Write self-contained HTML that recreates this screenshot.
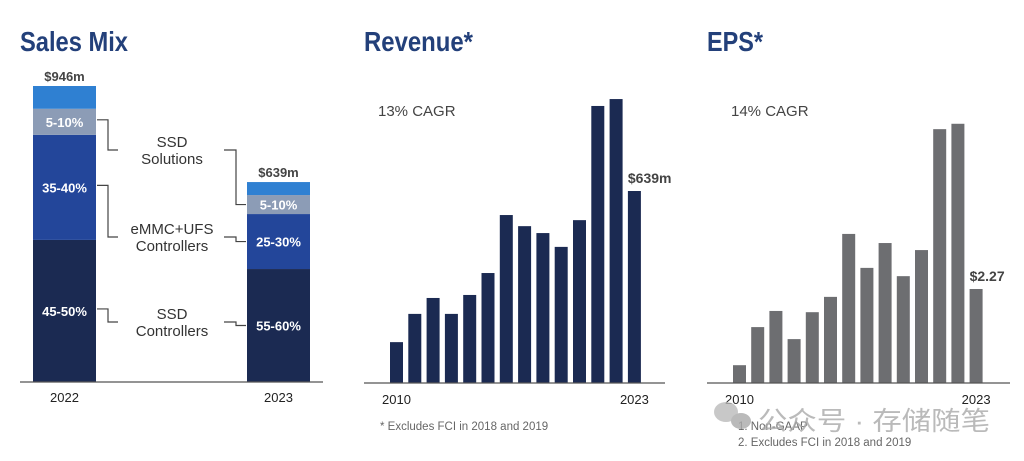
<!DOCTYPE html>
<html><head><meta charset="utf-8">
<style>
html,body{margin:0;padding:0;background:#fff;}
body{width:1024px;height:461px;overflow:hidden;position:relative;font-family:"Liberation Sans",sans-serif;}
svg{position:absolute;left:0;top:0;}
</style></head>
<body>
<svg id="chart" width="1024" height="461" viewBox="0 0 1024 461">
  <text x="20" y="51" textLength="108" lengthAdjust="spacingAndGlyphs" font-weight="bold" font-size="28" fill="#23407a">Sales Mix</text>
  <text x="364" y="51" textLength="109" lengthAdjust="spacingAndGlyphs" font-weight="bold" font-size="28" fill="#23407a">Revenue*</text>
  <text x="707" y="51" textLength="56" lengthAdjust="spacingAndGlyphs" font-weight="bold" font-size="28" fill="#23407a">EPS*</text>
  <g id="mix"></g>
  <g id="rev"></g>
  <g id="eps"></g>
  <text x="378" y="116" font-size="15" fill="#444">13% CAGR</text>
  <text x="731" y="116" font-size="15" fill="#444">14% CAGR</text>
  <text x="380" y="430" font-size="11.5" fill="#666">* Excludes FCI in 2018 and 2019</text>
  <text x="738" y="430" font-size="11.5" fill="#666">1. Non-GAAP</text>
  <text x="738" y="446" font-size="11.5" fill="#666">2. Excludes FCI in 2018 and 2019</text>
  <g opacity="0.8">
    <ellipse cx="726" cy="412" rx="12" ry="10" fill="#bbb"/>
    <ellipse cx="741" cy="421" rx="10" ry="8" fill="#aaa"/>
    <text x="758" y="430" textLength="232" lengthAdjust="spacingAndGlyphs" font-family="'Liberation Sans','Noto Sans CJK SC',sans-serif" font-size="26" fill="#aaa">公众号 · 存储随笔</text>
  </g>
</svg>
<script>
const NS="http://www.w3.org/2000/svg";
// Sales mix data (share of total)
const mixYears=["2022","2023"];
const mixTotals=[946,639];
const mixTotalLabels=["$946m","$639m"];
const mixSsdCtrl=[0.48,0.565];
const mixEmmc=[0.355,0.275];
const mixSolutions=[0.088,0.095];
const mixOther=[0.077,0.065];
const mixLabels=[["45-50%","35-40%","5-10%"],["55-60%","25-30%","5-10%"]];
// Revenue data ($m)
const revYears=["2010","2011","2012","2013","2014","2015","2016","2017","2018","2019","2020","2021","2022","2023"];
const revValues=[136,230,283,230,293,366,559,522,499,453,542,922,945,639];
const revTickLabels=["2010","2023"];
// EPS data ($)
const epsValues=[0.43,1.35,1.74,1.06,1.71,2.08,3.60,2.78,3.38,2.58,3.21,6.13,6.26,2.27];
const epsTickLabels=["2010","2023"];

function el(parent,tag,attrs){const e=document.createElementNS(NS,tag);for(const k in attrs)e.setAttribute(k,attrs[k]);parent.appendChild(e);return e;}

// ---- Sales mix ----
(function(){
  const g=document.getElementById('mix');
  const base=382, pxPerM=296/946;
  const xs=[33,247], w=63;
  const colors=["#1b2a52","#23469a","#8c9cb6","#2f80d2"];
  const names=["ssd-controllers","emmc-ufs-controllers","ssd-solutions","other"];
  const segs=[mixSsdCtrl,mixEmmc,mixSolutions,mixOther];
  const mids=[[],[]];
  for(let i=0;i<2;i++){
    const H=mixTotals[i]*pxPerM; let y=base;
    for(let s=0;s<4;s++){
      const h=segs[s][i]*H;
      const r=el(g,'rect',{x:xs[i],y:y-h,width:w,height:h,fill:colors[s]});
      
      
      mids[i].push(y-h/2); y-=h;
    }
    const t=el(g,'text',{x:xs[i]+w/2,y:base-H-5,'text-anchor':'middle','font-size':13,'font-weight':'bold',fill:'#444'});
    t.textContent=mixTotalLabels[i];
    
    
    const yl=el(g,'text',{x:xs[i]+w/2,y:402,'text-anchor':'middle','font-size':13,fill:'#222'});
    yl.textContent=mixYears[i];
    
    
    for(let s=0;s<3;s++){
      const lt=el(g,'text',{x:xs[i]+w/2,y:mids[i][s]+5,'text-anchor':'middle','font-size':13,'font-weight':'bold',fill:'#fff'});
      lt.textContent=mixLabels[i][s];
      
      
    }
  }
  const ax=el(g,'line',{x1:20,x2:323,y1:base,y2:base,stroke:'#555','stroke-width':1.2});
  
  
  const catY=[150,237,322];
  const cat=[["SSD","Solutions"],["eMMC+UFS","Controllers"],["SSD","Controllers"]];
  const segIdx=[2,1,0];
  for(let c=0;c<3;c++){
    const cy=catY[c];
    const ly=mids[0][segIdx[c]], ry=mids[1][segIdx[c]];
    el(g,'polyline',{points:`97,${ly-2} 108,${ly-2} 108,${cy} 118,${cy}`,fill:'none',stroke:'#444','stroke-width':1.2});
    el(g,'polyline',{points:`224,${cy} 236,${cy} 236,${ry} 246,${ry}`,fill:'none',stroke:'#444','stroke-width':1.2});
    for(let k=0;k<2;k++){
      const t=el(g,'text',{x:172,y:cy-3+k*17,'text-anchor':'middle','font-size':15,fill:'#333'});
      t.textContent=cat[c][k];
      
      
    }
  }
})();

function barChart(id,vals,ticks,x0,pitch,bw,base,scale,color,axisX1,axisX2,lastLabel,namePrefix){
  const g=document.getElementById(id);
  vals.forEach((v,i)=>{
    const h=v*scale;
    const r=el(g,'rect',{x:x0+i*pitch,y:base-h,width:bw,height:h,fill:color});
    
    
  });
  const ax=el(g,'line',{x1:axisX1,x2:axisX2,y1:base,y2:base,stroke:'#555','stroke-width':1.2});
  
  
  const n=vals.length;
  const lx=x0+(n-1)*pitch;
  const lt=el(g,'text',{x:lx,y:base-vals[n-1]*scale-8,'font-size':14,'font-weight':'bold',fill:'#444'});
  lt.textContent=lastLabel;
  
  
  const t1=el(g,'text',{x:x0+bw/2,y:base+21,'text-anchor':'middle','font-size':13,fill:'#222'});
  t1.textContent=ticks[0];
  
  
  const t2=el(g,'text',{x:lx+bw/2,y:base+21,'text-anchor':'middle','font-size':13,fill:'#222'});
  t2.textContent=ticks[1];
  
  
}
barChart('rev',revValues,revTickLabels,390,18.3,13,383,192/639,'#1b2a52',364,665,'$'+revValues[revValues.length-1]+'m','revenue');
barChart('eps',epsValues,epsTickLabels,733,18.2,13,383,94/2.27,'#6d6e71',707,1010,'$'+epsValues[epsValues.length-1].toFixed(2),'eps');
</script>
</body></html>
